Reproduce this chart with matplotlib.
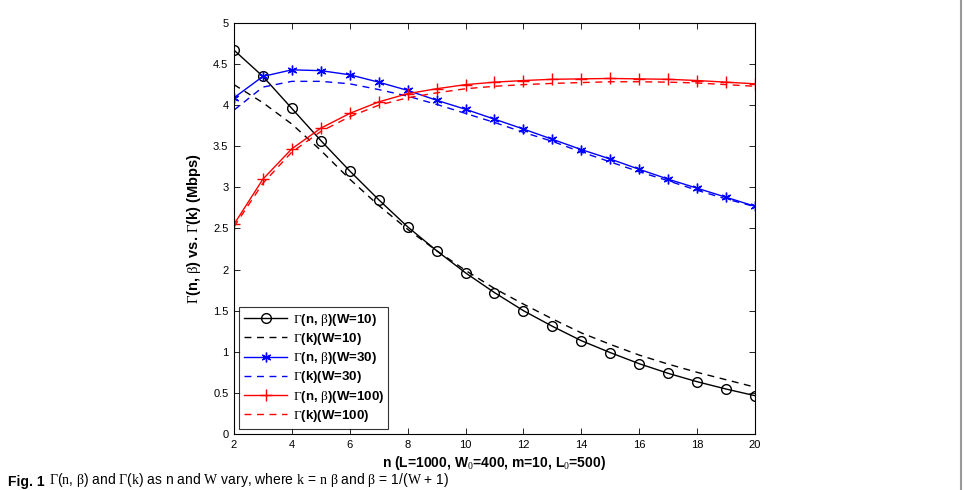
import matplotlib.pyplot as plt
from matplotlib.lines import Line2D

plt.rcParams["font.family"] = ["Liberation Sans", "DejaVu Sans"]
plt.rcParams["mathtext.fontset"] = "custom"
plt.rcParams["mathtext.rm"] = "Liberation Serif"
plt.rcParams["mathtext.it"] = "Liberation Serif"

n = list(range(2, 21))

# Gamma(n, beta), W=10
g_nb_w10 = [4.67, 4.35, 3.96, 3.57, 3.20, 2.85, 2.52, 2.23, 1.96, 1.72,
            1.50, 1.31, 1.135, 0.99, 0.855, 0.738, 0.636, 0.547, 0.466]
# Gamma(k), W=10
g_k_w10 = [4.25, 4.03, 3.77, 3.45, 3.10, 2.78, 2.49, 2.23, 1.99, 1.77,
           1.58, 1.40, 1.23, 1.09, 0.96, 0.85, 0.75, 0.66, 0.57]
# Gamma(n, beta), W=30
g_nb_w30 = [4.09, 4.35, 4.43, 4.42, 4.37, 4.28, 4.18, 4.06, 3.95, 3.83,
            3.71, 3.585, 3.46, 3.345, 3.22, 3.10, 2.99, 2.88, 2.77]
# Gamma(k), W=30
g_k_w30 = [3.94, 4.22, 4.29, 4.29, 4.26, 4.19, 4.11, 4.01, 3.90, 3.79,
           3.67, 3.56, 3.43, 3.31, 3.19, 3.08, 2.965, 2.86, 2.765]
# Gamma(n, beta), W=100
g_nb_w100 = [2.55, 3.10, 3.47, 3.72, 3.90, 4.04, 4.14, 4.20, 4.25, 4.28,
             4.30, 4.315, 4.32, 4.325, 4.32, 4.315, 4.30, 4.28, 4.26]
# Gamma(k), W=100
g_k_w100 = [2.52, 3.05, 3.43, 3.68, 3.86, 4.00, 4.09, 4.15, 4.20, 4.23,
            4.25, 4.265, 4.275, 4.285, 4.285, 4.28, 4.27, 4.25, 4.23]

x_ticks = list(range(2, 21, 2))
y_ticks = [0, 0.5, 1, 1.5, 2, 2.5, 3, 3.5, 4, 4.5, 5]
y_tick_labels = ["0", "0.5", "1", "1.5", "2", "2.5", "3", "3.5", "4", "4.5", "5"]

fig = plt.figure(figsize=(9.66, 4.9), dpi=100)
ax = fig.add_axes([0.2422, 0.1143, 0.5394, 0.8388])

dash = (0, (5, 4))
ax.plot(n, g_nb_w10, color="black", lw=1.0, marker="o", ms=7,
        mfc="none", mew=1.0, label=r"$\Gamma$(n, $\beta$)(W=10)")
ax.plot(n, g_k_w10, color="black", lw=1.0, ls=dash,
        label=r"$\Gamma$(k)(W=10)")
ax.plot(n, g_nb_w30, color="#0000ff", lw=1.0, marker=(6, 2, 0), ms=7,
        mew=1.0, label=r"$\Gamma$(n, $\beta$)(W=30)")
ax.plot(n, g_k_w30, color="#0000ff", lw=1.0, ls=dash,
        label=r"$\Gamma$(k)(W=30)")
ax.plot(n, g_nb_w100, color="#ff0000", lw=1.0, marker="+", ms=8,
        mew=1.0, label=r"$\Gamma$(n, $\beta$)(W=100)")
ax.plot(n, g_k_w100, color="#ff0000", lw=1.0, ls=dash,
        label=r"$\Gamma$(k)(W=100)")

ax.set_xlim(2, 20)
ax.set_ylim(0, 5)
ax.set_xticks(x_ticks)
ax.set_yticks(y_ticks)
ax.set_yticklabels(y_tick_labels)
ax.tick_params(direction="in", top=True, right=True, labelsize=8, length=4,
               width=0.6, pad=4)
for s in ax.spines.values():
    s.set_linewidth(0.8)

ax.set_xlabel(r"n (L=1000, W$_0$=400, m=10, L$_0$=500)", fontsize=10,
              fontweight="bold", labelpad=3)
ax.set_ylabel(r"$\Gamma$(n, $\beta$) vs. $\Gamma$(k) (Mbps)", fontsize=10.5,
              fontweight="bold", labelpad=7)

leg = ax.legend(loc="lower left", frameon=True, fancybox=False,
                edgecolor="black", borderpad=0.35, labelspacing=0.25,
                handlelength=3.3, handletextpad=0.4, borderaxespad=0.4,
                prop={"weight": "bold", "size": 9.5})
leg.get_frame().set_linewidth(0.8)

# figure caption (cut by the page edge in the source)
fig.text(0.008, 1 / 490, "Fig. 1", fontsize=10, fontweight="bold",
         va="bottom", ha="left")
fig.text(0.051, 1 / 490,
         r"$\Gamma$($n$, $\beta$) and $\Gamma$($k$) as n and $W$ vary, "
         r"where $k$ = $n$ $\beta$ and $\beta$ = 1/($W$ + 1)",
         fontsize=10, va="bottom", ha="left")
fig.add_artist(Line2D([961 / 966, 961 / 966], [0, 1], color="#999999", lw=1.5,
                      transform=fig.transFigure))

fig.savefig("out.png", dpi=100)
